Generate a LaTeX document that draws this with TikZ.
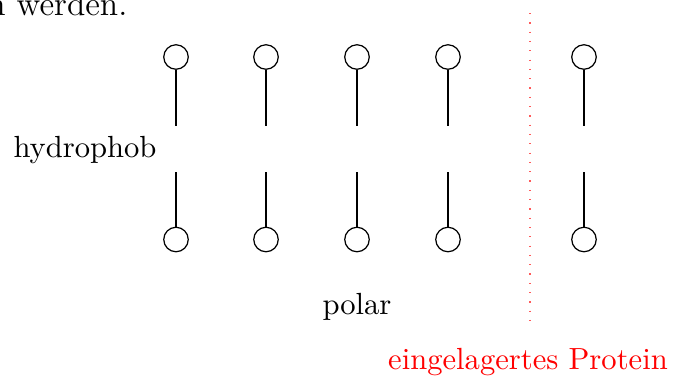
\documentclass[tikz,border=0pt]{standalone}
\begin{document}
\begin{tikzpicture}[x=0.3268pt, y=-0.3268pt,
  head/.style={circle, draw, line width=0.4pt, minimum size=8pt, inner sep=0pt},
  tail/.style={line width=0.4pt},
  label/.style={inner sep=0pt, anchor=base},
  divider/.style={red!65, line width=0.4pt, dash pattern=on 0.4pt off 2.64pt}]
  \useasboundingbox (0,0) rectangle (674,376);

  % trailing text of the preceding paragraph
  \node[inner sep=0pt, anchor=base east, font=\fontsize{11}{13}\selectfont] (prev) at (128,15.5) {n werden.};

  % upper layer of lipid heads with tails pointing down
  \foreach \i/\x in {1/176, 2/266, 3/357, 4/448, 5/584} {
    \node[head] (t\i) at (\x,57) {};
    \coordinate (te\i) at (\x,126);
    \draw[tail] (t\i) -- (te\i);
  }

  % lower layer of lipid heads with tails pointing up
  \foreach \i/\x in {1/176, 2/266, 3/357, 4/448, 5/584} {
    \node[head] (b\i) at (\x,239.5) {};
    \coordinate (be\i) at (\x,172);
    \draw[tail] (b\i) -- (be\i);
  }

  % boundary to the embedded protein
  \coordinate (dtop) at (530,13);
  \coordinate (dbot) at (530,322);
  \draw[divider] (dtop) -- (dbot);

  \node[label] (hyd) at (85,157) {hydrophob};
  \node[label] (pol) at (357,314) {polar};
  \node[label, red] (prot) at (528,369) {eingelagertes Protein};
\end{tikzpicture}
\end{document}
